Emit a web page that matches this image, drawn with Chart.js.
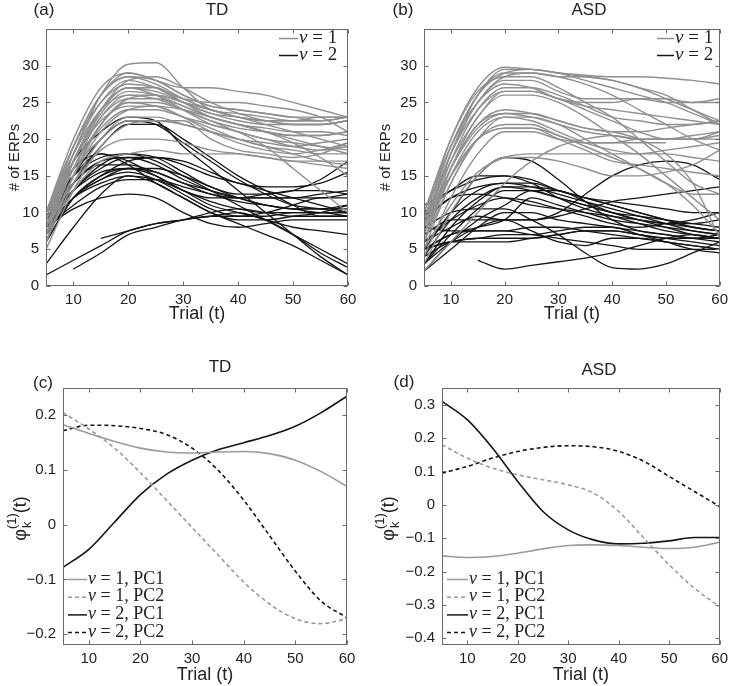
<!DOCTYPE html>
<html><head><meta charset="utf-8">
<script src="https://cdn.jsdelivr.net/npm/chart.js@4.4.0/dist/chart.umd.min.js"></script>
<style>
html,body{margin:0;padding:0;background:#fff;width:733px;height:686px;overflow:hidden}
canvas{position:absolute;left:0;top:0}
</style></head>
<body>
<canvas id="ca" width="733" height="686"></canvas>
<canvas id="cb" width="733" height="686"></canvas>
<canvas id="cc" width="733" height="686"></canvas>
<canvas id="cd" width="733" height="686"></canvas>
<script>
// ---------- data ----------
const TRIALS = [5,10,15,20,25,30,35,40,45,50,55,60];
const X_TICKS = [10,20,30,40,50,60];
const ERP_TICKS = [0,5,10,15,20,25,30];
const TD_PC_TICKS = [-0.2,-0.1,0,0.1,0.2];
const ASD_PC_TICKS = [-0.4,-0.3,-0.2,-0.1,0,0.1,0.2,0.3];

// (a) TD, v = 1 (gray)
const tdV1 = [
 [8,18,26,30.2,30.4,27,24,23.5,23,22.5,22.5,23],
 [9,19,26,29,28,27,27,26.5,26,25,24,23],
 [10,20,27,29,28,26,24.5,24,23.5,23,22.5,23],
 [9,19,26,28.5,27.5,25.5,24,23,22.5,22.5,22.5,23],
 [8,18,25,28,27,25,23.5,23,22.5,22,22,22.5],
 [10,19,25,27.5,27,25.5,25,25,24.5,24,23,21],
 [9,18,24,27,26.5,25,23.5,22.5,22,22,22,22.5],
 [7,17,24,27,27,25,23,22,21,20.5,20.5,21],
 [8,17,23.5,26.5,26,24.5,23,22,21.5,21,21,20.5],
 [10,18,24,26,26,25,24,23,22,21,20,19],
 [7,16,23,26,25.5,24,22.5,21.5,21,20.5,20.5,21],
 [9,17,23,25.5,25.5,24.5,23,22,21,20,19,18],
 [8,16,22,25,25,24,22.5,21,20,19,18.5,19],
 [6,15,22,25,24.5,23,21,19.5,18.5,18,18.5,19.5],
 [9,17,22.5,24.5,24.5,23,21.5,20,19,18.5,18,18],
 [7,15,21,24,24.5,24,23,22,21,19.5,17.5,15],
 [8,16,21.5,24,24,23,22,21,19,16,13,10],
 [6,14,20,23,23,22,21,20,19.5,19,19.5,20],
 [10,16,20,22.5,22.5,22.5,20,18.5,18,17.5,18,19.5],
 [5,13,19,22,22.5,22,21,20,19,18,17,16.5],
 [8,14,18.5,20,20,19.5,18.5,18,17.5,17,17,17],
 [7,13,17,18,18.5,18,18,18,17.5,17,16.5,16],
 [9,17,24,28,28.5,27,25,23.5,22.5,22,22,22.5],
 [10,19,26,28.5,28,26,24.5,24,23.5,23,23,23],
 [6,15,22,25.5,26,25,24,23,22.5,22.5,23,23],
 [8,17,24,27,26,24,22,21,20,19.5,19,18.5]
];
// (a) TD, v = 2 (black)
const tdV2 = [
 [9,17,21,23,22.5,19,16,13,10,7,4,1.5],
 [8,15,20,22.5,22,19.5,17,14.5,12.5,11,10.5,10],
 [7,14,19,22,22,20,17.5,15,13,11,9.5,9.5],
 [9,15,18,17,15,13,11,10,9,7,4.5,2.5],
 [10,16,18,16.5,14,12,10,8.5,7,5.5,3.5,1.5],
 [8,14,17,17.5,16.5,14.5,13,12,12,12,12.5,13],
 [7,13,16,17.5,17.5,16.5,15,14,13,12,11,10],
 [6,12,15,17,17.5,17,15.5,14,13.5,13.5,14,15.5],
 [9,13,15.5,16,15,13,12,12,12.5,13,14.5,17],
 [6,12,15,16,15.5,14,12.5,12,12,12,12,12.5],
 [7,12,14.5,15.5,14.5,12.5,10.5,9.5,10,11,12,12],
 [8,12,14,15,14,12,10,9,9,9.5,10,11],
 [8,11,13.5,14.5,14.5,13.5,12.5,11.5,11,10.5,10,10],
 [8,10.5,12,12.5,12,10,8.5,8,8.5,9,9,9],
 [3,8,12.5,15,14.5,13,11.5,10.5,10,10,10,9.5],
 [1.5,3.5,5.5,7.5,8.5,9,9.5,9.5,9.5,10,10,10],
 [null,2.3,4.5,7,8,9,9.5,10,9,8,7.5,7],
 [null,null,6.5,7.5,8.5,9,10,10.5,10,9.5,9.5,9.5],
 [8,13,16.5,18,17.5,15.5,13.5,12.5,12.5,13,13,12.5],
 [9,14,16.5,16.5,15.5,14,13,12,11,10.5,10.5,11],
 [7,12,14.5,16,16,15,13.5,12,11,10.5,10.5,10.5],
 [10,15,17.5,18,17,15,13,11,9,7,5,3]
];
// (b) ASD, v = 1 (gray)
const asdV1 = [
 [8,19,26,29.5,29.5,29,28.7,28.5,28.5,28.3,28,27.5],
 [9,20,27,29.8,29.5,29,28,27,26,25,23.5,22],
 [7,18,26,29,29,28.5,27.5,26,24,22,20,18.5],
 [10,20,26.5,28.5,28.5,27,25,23,20,17,14,12.5],
 [8,18,25,28,28,26.5,25.5,25.5,25.5,25,25,25.5],
 [9,19,25,27.5,27,25.5,25,25,25.5,25.5,25,25],
 [7,17,24,27,27,26,24.5,23,22.5,22,22,22.5],
 [8,18,24,26.5,26.5,25.5,24,22.5,21,20,20,20.5],
 [6,16,23,26,26,25,23,20.5,18,15,12,9],
 [9,17,23,26.5,26.5,25.5,24.5,24,23.5,23,22.5,22],
 [7,16,22,23.5,23,22,21,20.5,20,20,20,21],
 [8,16,21.5,23.5,23.5,22.5,21.5,21,21,21.5,22,22.5],
 [6,15,21,23,22.5,21,19.5,18.5,18,18.5,19,19.5],
 [5,14,20,22,22,20.5,19.5,19.5,19.5,19.5,null,null],
 [7,15,20,21.5,21.5,20,18.5,17,16.5,16,15.5,15],
 [9,15,20,21.5,21.5,20.5,19,17.5,16,14,11,7],
 [4,12,18,21,21,20,19.5,19.5,20,20,20,20],
 [2,6,10,14,17,19,20,20.5,20,20,20.5,21],
 [5,11,15.5,17.5,18,18,18,18,18,18,17.5,17],
 [6,14,20,23,23,22,20,18,16,14,12.5,12.5],
 [8,18,25,28.5,29,28.5,28.5,28,27,26,24,22],
 [10,19,26,29,29.5,29,28.5,28,27,25.5,24,22.5],
 [3,10,15,17.5,17.5,17,16,15,15,15.5,16.5,18.5],
 [7,16,22,24,23.5,22.5,21.5,21,20,18,14,6.5]
];
// (b) ASD, v = 2 (black)
const asdV2 = [
 [5,10,15,17.5,17,14.5,11.5,9,7.5,7,6.5,6.5],
 [10,13,15,15,14.5,13,12,11.5,11,10.5,10,10],
 [9,12,13.5,14,13.5,12.5,11.5,10.5,9.5,8.5,7.5,7],
 [4,9,12,13.5,13,12,11,10,9.5,9,8.5,8],
 [5,10,13,14,14,13,12,11,10,9,8,7.5],
 [3,8,11.5,13.5,13.5,13,12,11,10,9,8,7.5],
 [3,6,8,9,9,10,12.5,15,16.5,17,16.5,14.5],
 [6,8,9.5,9,9,9.5,10.5,11.5,12,12.5,13,13.5],
 [2,6,9,11,13,13,11.5,10,9,8.5,8.5,9],
 [5,7,8,9,12,11,10,9,8.5,8,7.5,7],
 [4,6,6.5,7,7,7.5,8,8,7,6,5,4.5],
 [5,7,7.5,7.5,7,6.5,6,5.5,5,5,5,5],
 [null,null,3.5,2.3,2.8,3.3,3.8,4.5,5.5,6.5,7,6.5],
 [8,10,10.5,10.5,9,7,4.5,2.5,2.3,3,4.5,6],
 [7,9,9,9,7.5,6,5.5,6.5,6.5,6,5.5,5],
 [9,12,12.5,12,11,10.5,10,9.5,9,8.5,8,7.5],
 [3,7,10.5,13,13,12,11,10,9,8,7,6.5],
 [5,6,6.5,6.5,6.5,7,7.5,7.5,7,6.5,6.5,7],
 [11,13,14.5,15,14,12,10.5,9.5,8.5,7.5,7,6.5],
 [6,9,11,12,11.5,10.5,9.5,8.5,8,8.5,9,10],
 [2,5,8,10,10,9,8.5,8,7.5,7,6.5,6],
 [5,6,6,6,6.5,7,7.5,7.5,7,6.5,6,5.5],
 [8,7.5,7.5,7.5,8,8,7.5,7,6.5,6,5.5,5]
];
// (c) TD eigenfunctions
const tdV1PC1 = [0.183,0.167,0.152,0.140,0.133,0.131,0.133,0.134,0.130,0.118,0.097,0.070];
const tdV1PC2 = [0.205,0.175,0.140,0.095,0.045,-0.005,-0.055,-0.105,-0.145,-0.172,-0.181,-0.172];
const tdV2PC1 = [-0.078,-0.045,0.005,0.055,0.092,0.118,0.137,0.150,0.163,0.180,0.205,0.235];
const tdV2PC2 = [0.172,0.182,0.181,0.176,0.165,0.140,0.100,0.045,-0.020,-0.085,-0.140,-0.170];
// (d) ASD eigenfunctions
const asdV1PC1 = [-0.153,-0.158,-0.155,-0.145,-0.132,-0.122,-0.120,-0.122,-0.127,-0.131,-0.127,-0.112];
const asdV1PC2 = [0.180,0.140,0.110,0.090,0.075,0.060,0.035,-0.020,-0.100,-0.180,-0.250,-0.305];
const asdV2PC1 = [0.310,0.255,0.170,0.070,-0.020,-0.075,-0.105,-0.117,-0.115,-0.108,-0.098,-0.098];
const asdV2PC2 = [0.095,0.115,0.140,0.160,0.172,0.177,0.174,0.160,0.130,0.085,0.040,-0.005];

// ---------- helpers ----------
const GRAY = '#8f8f8f', BLACK = '#151515', LGRAY = '#9a9a9a';
const SANS = '"Liberation Sans", Arial, Helvetica, sans-serif';
const SERIF = '"Liberation Serif", "DejaVu Serif", serif';

function pts(vals){
  const out=[];
  vals.forEach((v,i)=>{ if(v!==null && v!==undefined) out.push({x:TRIALS[i], y:v}); });
  return out;
}
function group(list, color, width, dash){
  return list.map(v=>({data:pts(v), borderColor:color, borderWidth:width, borderDash:dash||[], fill:false, pointRadius:0}));
}
function fmt(v){
  if (Math.abs(v) < 1e-9) return '0';
  return (v<0?'\u2212':'') + Math.abs(v).toFixed(1);
}

function drawYLabelText(ctx, cx, cy, text){
  ctx.save(); ctx.translate(cx, cy); ctx.rotate(-Math.PI/2);
  ctx.textAlign='center'; ctx.textBaseline='middle';
  ctx.font='15px '+SANS; ctx.fillStyle='#222';
  ctx.fillText(text, 0, 0);
  ctx.restore();
}
function drawPhi(ctx, cx, cy){
  ctx.save(); ctx.translate(cx, cy); ctx.rotate(-Math.PI/2);
  ctx.textAlign='left'; ctx.textBaseline='alphabetic'; ctx.fillStyle='#222';
  const big='18px '+SANS, small='13px '+SANS;
  ctx.font=big; const w1=ctx.measureText('\u03C6').width, w4=ctx.measureText('(t)').width;
  ctx.font=small; const w2=ctx.measureText('(1)').width;
  let x0 = -(w1+w2+w4)/2; const base=6;
  ctx.font=big; ctx.fillText('\u03C6', x0, base); x0+=w1;
  ctx.font=small; ctx.fillText('(1)', x0, base-10); ctx.fillText('k', x0+1, base+5); x0+=w2;
  ctx.font=big; ctx.fillText('(t)', x0, base);
  ctx.restore();
}

const deco = {
  id:'deco',
  afterDraw(chart, args, o){
    const {ctx, chartArea:a} = chart;
    const x = chart.scales.x, y = chart.scales.y;
    ctx.save();
    ctx.strokeStyle='#6a6a6a'; ctx.lineWidth=1; ctx.setLineDash([]);
    const L=Math.round(a.left)+0.5, T=Math.round(a.top)+0.5, R=Math.round(a.right)-0.5, B=Math.round(a.bottom)-0.5;
    ctx.strokeRect(L, T, R-L, B-T);
    ctx.beginPath();
    x.ticks.forEach(t=>{ const p=Math.round(x.getPixelForValue(t.value))+0.5; ctx.moveTo(p,B); ctx.lineTo(p,B-4); ctx.moveTo(p,T); ctx.lineTo(p,T+4); });
    y.ticks.forEach(t=>{ const p=Math.round(y.getPixelForValue(t.value))+0.5; ctx.moveTo(L,p); ctx.lineTo(L+4,p); ctx.moveTo(R,p); ctx.lineTo(R-4,p); });
    ctx.stroke();
    ctx.fillStyle='#222'; ctx.textAlign='center'; ctx.textBaseline='middle';
    ctx.font='17px '+SANS;
    ctx.fillText(o.tag, o.tagX, o.tagY);
    ctx.fillText(o.title, o.titleX, o.titleY);
    ctx.font='18px '+SANS;
    ctx.fillText('Trial (t)', (a.left+a.right)/2, o.xLabelY);
    if (o.phi) drawPhi(ctx, o.yLabelX, (a.top+a.bottom)/2 + 2);
    else drawYLabelText(ctx, o.yLabelX, (a.top+a.bottom)/2, '# of ERPs');
    o.legend.forEach((it,i)=>{
      const yy = o.legY + i*o.legDy;
      ctx.strokeStyle=it.color; ctx.lineWidth=it.width; ctx.setLineDash(it.dash||[]);
      ctx.beginPath(); ctx.moveTo(o.legX, yy+0.5); ctx.lineTo(o.legX+o.legLen, yy+0.5); ctx.stroke();
      ctx.setLineDash([]);
      let tx = o.legX + o.legLen + 1;
      ctx.textAlign='left'; ctx.textBaseline='middle'; ctx.fillStyle='#222';
      ctx.font='italic '+o.legFont+'px '+SERIF; ctx.fillText('v', tx, yy); tx += ctx.measureText('v').width;
      ctx.font=o.legFont+'px '+SERIF; ctx.fillText(' = '+it.text, tx, yy);
    });
    ctx.restore();
  }
};

function makePanel(id, area, yMin, yMax, yTicks, datasets, deco_opts, yfmt){
  const W=733, H=686, YW=42, XH=40;
  return new Chart(document.getElementById(id), {
    type:'line',
    data:{datasets},
    options:{
      responsive:false, animation:false, events:[],
      layout:{padding:{left:area.l-YW, top:area.t, right:W-area.r, bottom:H-area.b-XH}},
      plugins:{legend:{display:false}, tooltip:{enabled:false}, deco:deco_opts},
      elements:{point:{radius:0}, line:{cubicInterpolationMode:'monotone'}},
      scales:{
        x:{type:'linear', min:5, max:60,
           afterBuildTicks:s=>{ s.ticks = X_TICKS.map(v=>({value:v})); },
           afterFit:s=>{ s.height = XH; },
           grid:{display:false, drawTicks:false}, border:{display:false},
           ticks:{padding:5, color:'#222', font:{family:SANS, size:15}, maxRotation:0, autoSkip:false}},
        y:{type:'linear', min:yMin, max:yMax,
           afterBuildTicks:s=>{ s.ticks = yTicks.map(v=>({value:v})); },
           afterFit:s=>{ s.width = YW; },
           grid:{display:false, drawTicks:false}, border:{display:false},
           ticks:{padding:7, color:'#222', font:{family:SANS, size:15}, autoSkip:false, callback:yfmt}}
      }
    },
    plugins:[deco]
  });
}

const topLegend = [{color:GRAY,width:1.5,text:'1'},{color:BLACK,width:1.5,text:'2'}];
const botLegend = [
  {color:LGRAY,width:1.5,text:'1, PC1'},
  {color:LGRAY,width:1.5,dash:[4,3],text:'1, PC2'},
  {color:BLACK,width:1.5,text:'2, PC1'},
  {color:BLACK,width:1.5,dash:[4,3],text:'2, PC2'}
];
const intFmt = v => String(v);

makePanel('ca', {l:46,t:29,r:348,b:286}, 0, 35, ERP_TICKS,
  group(tdV1, GRAY, 1.4).concat(group(tdV2, BLACK, 1.3)),
  {tag:'(a)', tagX:44, tagY:10, title:'TD', titleX:217, titleY:10, xLabelY:314, yLabelX:15,
   legend:topLegend, legX:279, legY:38, legDy:17, legLen:19, legFont:19}, intFmt);

makePanel('cb', {l:424,t:29,r:726,b:286}, 0, 35, ERP_TICKS,
  group(asdV1, GRAY, 1.4).concat(group(asdV2, BLACK, 1.3)),
  {tag:'(b)', tagX:403, tagY:10, title:'ASD', titleX:589, titleY:10, xLabelY:314, yLabelX:386,
   legend:topLegend, legX:657, legY:38, legDy:17, legLen:17, legFont:19}, intFmt);

makePanel('cc', {l:63,t:388,r:347,b:645}, -0.22, 0.25, TD_PC_TICKS,
  [
   {data:pts(tdV1PC1), borderColor:LGRAY, borderWidth:1.6, fill:false, pointRadius:0},
   {data:pts(tdV1PC2), borderColor:LGRAY, borderWidth:1.6, borderDash:[4,3], fill:false, pointRadius:0},
   {data:pts(tdV2PC1), borderColor:BLACK, borderWidth:1.6, fill:false, pointRadius:0},
   {data:pts(tdV2PC2), borderColor:BLACK, borderWidth:1.6, borderDash:[4,3], fill:false, pointRadius:0}
  ],
  {tag:'(c)', tagX:43, tagY:383, title:'TD', titleX:220, titleY:367, xLabelY:675, yLabelX:20, phi:true,
   legend:botLegend, legX:68, legY:579, legDy:17.7, legLen:19, legFont:18}, fmt);

makePanel('cd', {l:442,t:388,r:724,b:645}, -0.42, 0.35, ASD_PC_TICKS,
  [
   {data:pts(asdV1PC1), borderColor:LGRAY, borderWidth:1.6, fill:false, pointRadius:0},
   {data:pts(asdV1PC2), borderColor:LGRAY, borderWidth:1.6, borderDash:[4,3], fill:false, pointRadius:0},
   {data:pts(asdV2PC1), borderColor:BLACK, borderWidth:1.6, fill:false, pointRadius:0},
   {data:pts(asdV2PC2), borderColor:BLACK, borderWidth:1.6, borderDash:[4,3], fill:false, pointRadius:0}
  ],
  {tag:'(d)', tagX:404, tagY:382, title:'ASD', titleX:599, titleY:370, xLabelY:675, yLabelX:388, phi:true,
   legend:botLegend, legX:447, legY:579, legDy:17.7, legLen:21, legFont:18}, fmt);
</script>
</body></html>
